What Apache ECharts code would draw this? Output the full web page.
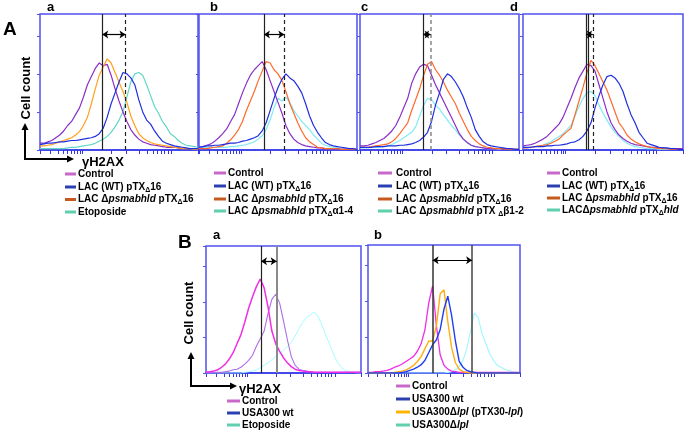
<!DOCTYPE html>
<html><head><meta charset="utf-8">
<script src="https://cdn.jsdelivr.net/npm/echarts@6/dist/echarts.min.js"></script>
<style>html,body{margin:0;padding:0;background:#fff}#c{width:685px;height:431px}</style>
</head><body><div id="c"></div>
<script>
// ---------- shared x grid (percent of the log fluorescence axis) ----------
const xBins = [0,2.5,5,7.5,10,12.5,15,17.5,20,22.5,25,27.5,30,32.5,35,37.5,40,42.5,45,47.5,50,52.5,55,57.5,60,62.5,65,67.5,70,72.5,75,77.5,80,82.5,85,87.5,90,92.5,95,97.5,100];
const tickPos = [0,6.3,11.6,14.7,17.3,19.6,21.7,23.6,25.3,26.7,45.3,54.3,62.7,67.8,71.6,74.1,76.8,78.9,81.1,83.2,100];

// ---------- Panel A-a ----------
const aaControl = [5,5,6,7,9,11,14,18,21,26,31,39,48,54,60,64,62,63,55,45,36,28,21,15,11,8,6,5,4,3.5,3,2.5,2,2,2,1.5,1,1,1,1,1];
const aaMutant  = [3,3,3.5,4,5,6,7,8,9,11,13.5,18,24,34,45,55,61,67,64,57,50,43,35,25,18,12,9,7,5.5,4.5,4,3.5,3,2.5,2,1.5,1,1,1,0.5,0.5];
const aaWT      = [4,4.5,5,5,5.5,6,6,6.5,7,7,7.5,8,8.5,9,10,12,16,24,34,42,50,57,56,53,48,37,28,22,19,14,10,6.5,5,4,3,2.5,2,1.5,1,1,1];
const aaEtop    = [1,1,1,1,1,1,1,1.5,2,2,2.5,3,3.5,4,5,6.5,8,10,13,17,22,28,39,50,56,57,55,48,40,32,27,21,17,12,10,7,5,3.5,3,2.5,2];
const aaSolid = [39.4], aaDashed = [54.1];
// ---------- Panel A-b ----------
const abControl = [2,2.5,3.5,4.5,6.5,9,12,15.5,21,26,34,42,49,55,59,62,65,59,51,43,35,27,18,12,8,5.5,4,3,2.5,2,1.5,1.5,1,1,1,1,0.5,0.5,0.5,0.5,0.5];
const abMutant  = [1,1,1,1.5,2,2.5,3,5,7.5,11,15,21,29,36,43,51,58,65,64,59,56,51,43,34,27,20,14,9,6,4,2,1.5,1,1,1,1,0.5,0.5,0.5,0.5,0.5];
const abWT      = [2,2.5,3,3,3.5,3.5,4,4.5,5,5,5.5,6.5,7,8,9,10.5,14,20,29,38,46,52,56,53,51,47,42,34,25,18,13,9,5.5,4,3,2.5,2,1.5,1,1,0.5];
const abComp    = [2,2,2,2,2,2,2,2,2.5,2.5,3,3.5,4,5,6,8,10.5,15,22,31,38,36,39,35,29,25,21,18,15,11,8,5,3.5,2.5,2,1.5,1,1,1,0.5,0.5];
const abSolid = [41.1], abDashed = [54];
// ---------- Panel A-c ----------
const acControl = [3,3,3.5,4.5,5.5,7,8.5,11,14,18,24,31,38,49,56,61,63,62,55,48,42,36,30,24,18,12,8,5.5,3.5,2.5,2,1.5,1,1,1,1,0.5,0.5,0.5,0.5,0.5];
const acMutant  = [2,2,2,2.5,3,3.5,4,4.5,6,8.5,12,16,20,29,37,45,55,63,65,59,55,50,44,39,34,27,21,15,10,7,4.5,3,2,1.5,1,1,1,0.5,0.5,0.5,0.5];
const acWT      = [2,2,2,2,2.5,2.5,2.5,3,3,3,3.5,3.5,4,4.5,5.5,7,9.5,13,21,33,42,52,56,54,50,45,39,31,24,15,10,6,4,3,2.5,2,1.5,1,1,0.5,0.5];
const acComp    = [1.5,1.5,1.5,2,2,2,2.5,3,4,5.5,7,9,11,13,17,25,33,38,37,33,30,26,22,18,15,11,8,5,3.5,2.5,2,1.5,1,1,1,0.5,0.5,0.5,0.5,0.5,0.5];
const acSolid = [39.7], acDashed = [44.4];
// ---------- Panel A-d ----------
const adControl = [3,3.5,4,5,6.5,8,10,13,16,19,24,31,38,46,53,58,63,62,58,48,38,28,20,15,11,8.5,6.5,5,4,3.5,3,2.5,2,2,1.5,1.5,1,1,1,1,1];
const adMutant  = [1.5,1.5,2,2.5,3,3.5,4,5,6.5,8,11,13.5,16,26,36,46,57,66,62,56,50,44,36,28,20,16,11,8,6,4.5,3.5,2.5,2,1.5,1,1,1,0.5,0.5,0.5,0.5];
const adWT      = [2,2,2,2.5,2.5,2.5,3,3,3.5,3.5,4,4.5,5.5,6,7.5,10,14,20,31,40,48,54,55,53,49,43,34,26,20,13,9,5,4,3,2,1.5,1.5,1,1,0.5,0.5];
const adComp    = [1.5,2,2,2.5,3,3.5,5,6,8,10,12,15,18,25,32,38,42,43,40,33,27,22,17,13,10,7,5,3.5,2.5,2,1.5,1,1,1,0.5,0.5,0.5,0.5,0.5,0.5,0.5];
const adSolid = [39.4, 40.5], adDashed = [43.6];
// ---------- Panel B-a ----------
const baControl = [0.5,1,1.5,2.5,4.5,7,11,16,23,30,40,51,60,68,74,67,52,33,23,17,12,8,5,3,2,1.5,1,1,0.5,0.5,0.5,0.5,0.5,0.5,0.5,0.5,0.5,0.5,0.5,0.5,0.5];
const baWT      = [0.5,0.5,0.5,0.5,0.5,1,1.5,2.5,3,4.5,7,10,14,21,27,33,47,58,62,55,41,26,13,6,3,2,1.5,1,0.5,0.5,0.5,0.5,0.5,0.5,0.5,0.5,0.5,0.5,0.5,0.5,0.5];
const baEtop    = [0,0,0,0,0,0,0,0,0,0,0.5,1,1.5,2.5,4,6,8,10.5,13,15.5,18,21,24,29,35,40,44,46,48,44,37,29,22,14,8,4,2,1,0.5,0,0];
const baLines = [35.5, 45.6];
// ---------- Panel B-b ----------
const bbControl = [0.5,0.5,1,1,1.5,2,3,4.5,5.5,7,9,11,13,17,23,34,55,68,37,14,6,3,1.5,1,0.5,0.5,0.5,0.5,0.5,0.5,0.5,0.5,0.5,0.5,0.5,0.5,0.5,0.5,0.5,0.5,0.5];
const bbComp    = [0,0,0,0,0,0,0,0.5,1,1.5,2.5,4,6,9,13,19,25,25,37,62,65,40,20,8,3,1,0.5,0,0,0,0,0,0,0,0,0,0,0,0,0,0];
const bbWT      = [0,0,0,0,0,0,0,0,0,0.5,1,2,3,4.5,6.5,10,16,22,26,34,50,60,45,25,9,4.5,2,1,0.5,0,0,0,0,0,0,0,0,0,0,0,0];
const bbDelta   = [0,0,0,0,0,0,0,0,0,0,0,0,0,0,0,0,0,0,0,0,0,0.5,1,2.5,5,10,19,33,47,43,31,23,15,10,6,4.5,3,2,1,0.5,0];
const bbLines = [42.5, 68.5];

// ---------- legend texts ----------
const legAa = ['{b|Control}','{b|LAC (WT) pTX}{s|Δ}{b|16}','{b|LAC Δ}{i|psmabhld}{b| pTX}{s|Δ}{b|16}','{b|Etoposide}'];
const legAb = ['{b|Control}','{b|LAC (WT) pTX}{s|Δ}{b|16}','{b|LAC Δ}{i|psmabhld}{b| pTX}{s|Δ}{b|16}','{b|LAC Δ}{i|psmabhld}{b| pTX}{s|Δ}{b|α1-4}'];
const legAc = ['{b|Control}','{b|LAC (WT) pTX}{s|Δ}{b|16}','{b|LAC Δ}{i|psmabhld}{b| pTX}{s|Δ}{b|16}','{b|LAC Δ}{i|psmabhld}{b| pTX }{s|Δ}{b|β1-2}'];
const legAd = ['{b|Control}','{b|LAC (WT) pTX}{s|Δ}{b|16}','{b|LAC Δ}{i|psmabhld}{b| pTX}{s|Δ}{b|16}','{b|LACΔ}{i|psmabhld}{b| pTX}{s|Δ}{i|hld}'];
const legBa = ['{b|Control}','{b|USA300 wt}','{b|Etoposide}'];
const legBb = ['{b|Control}','{b|USA300 wt}','{b|USA300Δ}{i|lpl}{b| (pTX30-}{i|lpl}{b|)}','{b|USA300Δ}{i|lpl}'];

// ---------- build ----------
const F = '"Liberation Sans", Arial, sans-serif';
const BOX = '#5252ee';
const pairs = arr => arr.map((v, i) => [xBins[i], v]);

const panels = [
  {grid:{left:40,top:14,width:158,height:136}, arrowY:85,
   lines:[[aaEtop,'#62d6c6',1.2],[aaControl,'#8a2ec8',1.2],[aaMutant,'#ffa11c',1.2],[aaWT,'#1f2fe0',1.2]],
   marks:[...aaSolid.map(v=>[v,'#222','solid',1.2]), ...aaDashed.map(v=>[v,'#222',[4,3],1.2])]},
  {grid:{left:199,top:14,width:158,height:136}, arrowY:85,
   lines:[[abComp,'#80eaf4',1.2],[abControl,'#8a2ec8',1.2],[abMutant,'#ff6a2c',1.2],[abWT,'#1f2fe0',1.2]],
   marks:[...abSolid.map(v=>[v,'#222','solid',1.2]), ...abDashed.map(v=>[v,'#222',[4,3],1.2])]},
  {grid:{left:360,top:14,width:159,height:136}, arrowY:85,
   lines:[[acComp,'#80eaf4',1.2],[acControl,'#8a2ec8',1.2],[acMutant,'#ff6a2c',1.2],[acWT,'#1f2fe0',1.2]],
   marks:[...acSolid.map(v=>[v,'#222','solid',1.2]), ...acDashed.map(v=>[v,'#888',[4,3],1.5])]},
  {grid:{left:523,top:14,width:160,height:136}, arrowY:85,
   lines:[[adComp,'#80eaf4',1.2],[adControl,'#8a2ec8',1.2],[adMutant,'#ff6a2c',1.2],[adWT,'#1f2fe0',1.2]],
   marks:[...adSolid.map(v=>[v,'#222','solid',1.2]), ...adDashed.map(v=>[v,'#222',[4,3],1.2])]},
  {grid:{left:206,top:246,width:155,height:127}, arrowY:88,
   lines:[[baEtop,'#a6fbff',1],[baWT,'#ae6ee6',1.1],[baControl,'#f02ee6',1.5]],
   marks:[[baLines[0],'#222','solid',1.2],[baLines[1],'#8a8a8a','solid',2]]},
  {grid:{left:368,top:245,width:152,height:128}, arrowY:88,
   lines:[[bbDelta,'#a0f6ff',1.1],[bbControl,'#f02ee6',1.3],[bbComp,'#ffad12',1.4],[bbWT,'#2040f0',1.4]],
   marks:[[bbLines[0],'#333','solid',1.5],[bbLines[1],'#444','solid',1.5]]}
];

const grid = [], xAxis = [], yAxis = [], series = [];
panels.forEach((p, gi) => {
  grid.push(Object.assign({show:true, borderColor:BOX, borderWidth:1.5, backgroundColor:'transparent'}, p.grid));
  xAxis.push({gridIndex:gi, type:'value', min:0, max:100,
    axisLine:{show:true, onZero:false, lineStyle:{color:'#3438e6', width:1.6}},
    axisTick:{show:true, customValues:tickPos, inside:false, length:4, lineStyle:{color:'#3438e6', width:1}},
    axisLabel:{show:false}, splitLine:{show:false}});
  yAxis.push({gridIndex:gi, type:'value', min:0, max:100, interval:28, position:'right',
    axisLine:{show:false}, axisTick:{show:true, inside:true, length:3, lineStyle:{color:BOX}},
    axisLabel:{show:false}, splitLine:{show:false}});
  p.lines.forEach((ln, li) => {
    const s = {type:'line', xAxisIndex:gi, yAxisIndex:gi, data:pairs(ln[0]), showSymbol:false, symbol:'none',
      smooth:false, lineStyle:{color:ln[1], width:ln[2]}, silent:true, z:2+li};
    if (li === 0) {
      const xs = p.marks.map(m => m[0]);
      const lo = Math.min(...xs), hi = Math.max(...xs);
      s.markLine = {silent:true, symbol:['none','none'], label:{show:false}, animation:false, z:10,
        data:[
          ...p.marks.map(m => ({xAxis:m[0], lineStyle:{color:m[1], type:m[2], width:m[3]}})),
          [{coord:[lo, p.arrowY], symbol:'arrow', symbolSize:6}, {coord:[hi, p.arrowY], symbol:'arrow', symbolSize:6, lineStyle:{color:'#000', type:'solid', width:1.2}}]
        ]};
    }
    series.push(s);
  });
});

// ---------- graphic texts ----------
const rich = {
  b:{fontFamily:F, fontWeight:'bold', fontSize:10, fill:'#000', lineHeight:13},
  i:{fontFamily:F, fontWeight:'bold', fontStyle:'italic', fontSize:10, fill:'#000', lineHeight:13},
  s:{fontFamily:F, fontWeight:'bold', fontSize:7, fill:'#000', verticalAlign:'bottom'}
};
const G = [];
function txt(x, y, text, size, extra) {
  G.push({type:'text', x, y, silent:true, style:Object.assign({text, fill:'#000',
    font:'bold ' + size + 'px ' + F, textAlign:'left', textVerticalAlign:'middle'}, extra || {})});
}
function arrow(x1, y1, x2, y2) {
  const a = Math.atan2(y2 - y1, x2 - x1), L = 7, W = 3.5;
  const bx = x2 - L * Math.cos(a), by = y2 - L * Math.sin(a);
  const px = -Math.sin(a) * W, py = Math.cos(a) * W;
  G.push({type:'line', silent:true, shape:{x1, y1, x2:bx, y2:by}, style:{stroke:'#000', lineWidth:2}});
  G.push({type:'polygon', silent:true, shape:{points:[[x2,y2],[bx+px,by+py],[bx-px,by-py]]}, style:{fill:'#000'}});
}
function legend(sx1, sx2, tx, ys, labels, colors) {
  labels.forEach((lab, i) => {
    G.push({type:'line', silent:true, shape:{x1:sx1, y1:ys[i], x2:sx2, y2:ys[i]}, style:{stroke:colors[i], lineWidth:3}});
    G.push({type:'text', x:tx, y:ys[i], silent:true, style:{text:lab, rich, textAlign:'left', textVerticalAlign:'middle', fill:'#000', font:'bold 10px ' + F}});
  });
}
const colA = ['#c868c8','#2a3fb0','#c65a1e','#5fcfae'];
txt(3, 30, 'A', 19);
txt(47, 7, 'a', 13); txt(210, 7, 'b', 13); txt(361, 7, 'c', 13); txt(510, 7, 'd', 13);
txt(26, 88, 'Cell count', 13, {textAlign:'center', rotation:0});
G[G.length-1].rotation = Math.PI / 2;
arrow(25, 159, 25, 123); arrow(24, 159, 74, 159);
txt(82, 162, 'γH2AX', 13);
legend(65, 76, 78, [174,187,199.5,212], legAa, colA);
legend(214, 226, 228, [173,186,199,211], legAb, colA);
legend(378, 392, 396, [173,186,199,211], legAc, colA);
legend(547, 560, 562, [173,186,198,210], legAd, colA);
txt(178, 243, 'B', 19);
txt(213, 235, 'a', 13); txt(374, 235, 'b', 13);
txt(189, 313, 'Cell count', 13, {textAlign:'center'});
G[G.length-1].rotation = Math.PI / 2;
arrow(191, 386, 191, 352); arrow(190, 386, 237, 386);
txt(239, 389, 'γH2AX', 13);
legend(227, 240, 242, [401,413,425], legBa, ['#c868c8','#2a3fb0','#5fcfae']);
legend(396, 410, 412, [386,399,412,425], legBb, ['#c868c8','#2a3fb0','#ffb400','#5fcfae']);

const chart = echarts.init(document.getElementById('c'), null, {renderer:'canvas'});
chart.setOption({animation:false, backgroundColor:'#fff', grid, xAxis, yAxis, series, graphic:{elements:G}});
</script></body></html>
